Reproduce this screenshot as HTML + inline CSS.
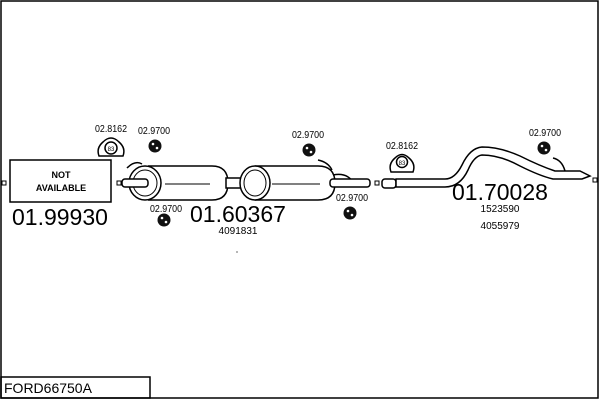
<!DOCTYPE html>
<html><head><style>
html,body{margin:0;padding:0;background:#fff;}
svg{display:block;}
text{font-family:"Liberation Sans",sans-serif;fill:#000;}
</style></head><body>
<svg width="600" height="400" viewBox="0 0 600 400" xmlns="http://www.w3.org/2000/svg">
<rect x="1" y="1" width="597" height="397" fill="none" stroke="#000" stroke-width="1.5"/>
<rect x="1" y="377" width="149" height="21" fill="none" stroke="#000" stroke-width="1.5"/>
<text x="4" y="393" font-size="14">FORD66750A</text>

<rect x="2" y="181" width="4" height="4" fill="#fff" stroke="#000"/>
<rect x="10" y="160" width="101" height="42" fill="#fff" stroke="#000" stroke-width="1.5"/>
<text x="61" y="178" font-size="9" font-weight="bold" text-anchor="middle">NOT</text>
<text x="61" y="191" font-size="9" font-weight="bold" text-anchor="middle">AVAILABLE</text>
<text x="12" y="225" font-size="23">01.99930</text>

<g font-size="10" text-anchor="middle">
<text x="111" y="132" textLength="32" lengthAdjust="spacingAndGlyphs">02.8162</text>
<text x="154" y="134" textLength="32" lengthAdjust="spacingAndGlyphs">02.9700</text>
<text x="166" y="212" textLength="32" lengthAdjust="spacingAndGlyphs">02.9700</text>
<text x="308" y="138" textLength="32" lengthAdjust="spacingAndGlyphs">02.9700</text>
<text x="352" y="201" textLength="32" lengthAdjust="spacingAndGlyphs">02.9700</text>
<text x="545" y="136" textLength="32" lengthAdjust="spacingAndGlyphs">02.9700</text>
<text x="402" y="149" textLength="32" lengthAdjust="spacingAndGlyphs">02.8162</text>
</g>
<path d="M99 156 Q96 148 103 142 Q111 134 119 142 Q126 148 123 156 Z" fill="#fff" stroke="#000" stroke-width="1.5"/>
<circle cx="111" cy="148" r="6" fill="#fff" stroke="#000" stroke-width="1.5"/>
<text x="111" y="151" font-size="6" text-anchor="middle">83</text>
<g fill="#111">
<circle cx="155" cy="146" r="6.5"/><circle cx="164" cy="220" r="6.5"/>
<circle cx="309" cy="150" r="6.5"/><circle cx="350" cy="213" r="6.5"/>
<circle cx="544" cy="148" r="6.5"/>
</g>
<g fill="#fff"><circle cx="153" cy="144" r="1.3"/><circle cx="157" cy="148" r="1.3"/><circle cx="162" cy="218" r="1.3"/><circle cx="166" cy="222" r="1.3"/><circle cx="307" cy="148" r="1.3"/><circle cx="311" cy="152" r="1.3"/><circle cx="348" cy="211" r="1.3"/><circle cx="352" cy="215" r="1.3"/><circle cx="542" cy="146" r="1.3"/><circle cx="546" cy="150" r="1.3"/></g>

<path d="M391 172 Q388 164 395 158 Q402 151 409 158 Q416 164 413 172 Z" fill="#fff" stroke="#000" stroke-width="1.5"/>
<circle cx="402" cy="162" r="5.5" fill="#fff" stroke="#000" stroke-width="1.5"/>
<text x="402" y="165" font-size="6" text-anchor="middle">83</text>

<rect x="117" y="181" width="4" height="4" fill="#fff" stroke="#000"/>
<path d="M148 166 L212 166 Q228 166 228 183 Q228 200 212 200 L148 200" fill="#fff" stroke="#000" stroke-width="1.5"/>
<ellipse cx="145" cy="183" rx="16" ry="17" fill="#fff" stroke="#000" stroke-width="1.5"/>
<ellipse cx="145" cy="183" rx="12" ry="13" fill="none" stroke="#000"/>
<rect x="122" y="179" width="26" height="8" rx="3" fill="#fff" stroke="#000" stroke-width="1.5"/>
<line x1="165" y1="184" x2="210" y2="184" stroke="#000"/>
<path d="M127 168 Q135 160 142 164" fill="none" stroke="#000" stroke-width="1.5"/>
<rect x="226" y="178" width="30" height="10" fill="#fff" stroke="#000" stroke-width="1.5"/>
<path d="M255 166 L318 166 Q335 166 335 183 Q335 200 318 200 L255 200" fill="#fff" stroke="#000" stroke-width="1.5"/>
<ellipse cx="255" cy="183" rx="15" ry="17" fill="#fff" stroke="#000" stroke-width="1.5"/>
<ellipse cx="255" cy="183" rx="11" ry="13" fill="none" stroke="#000"/>
<line x1="272" y1="184" x2="320" y2="184" stroke="#000"/>
<path d="M318 160 Q328 162 332 170" fill="none" stroke="#000" stroke-width="1.5"/>
<path d="M333 175 Q348 172 354 184" fill="none" stroke="#000" stroke-width="1.5"/>
<rect x="330" y="179" width="40" height="8" rx="3" fill="#fff" stroke="#000" stroke-width="1.5"/>
<text x="190" y="222" font-size="23">01.60367</text>
<text x="238" y="234" font-size="10" text-anchor="middle">4091831</text>
<circle cx="237" cy="252" r="0.6" fill="#000"/>

<rect x="375" y="181" width="4" height="4" fill="#fff" stroke="#000"/>
<rect x="382" y="179" width="14" height="9" rx="3" fill="#fff" stroke="#000" stroke-width="1.5"/>
<path d="M396 179 L445 179 Q455 179 462 165 Q470 148 482 147 Q500 147 520 156 Q540 166 555 171 L580 171 L590 176 L582 179 L553 179 Q540 176 520 166 Q500 155 482 155 Q474 156 468 170 Q460 187 445 187 L396 187 Z" fill="#fff" stroke="#000" stroke-width="1.5"/>
<path d="M553 158 Q562 160 565 171" fill="none" stroke="#000" stroke-width="1.5"/>
<rect x="593" y="178" width="4" height="4" fill="#fff" stroke="#000"/>
<text x="452" y="200" font-size="23">01.70028</text>
<text x="500" y="212" font-size="10" text-anchor="middle">1523590</text>
<text x="500" y="229" font-size="10" text-anchor="middle">4055979</text>
</svg>
</body></html>
